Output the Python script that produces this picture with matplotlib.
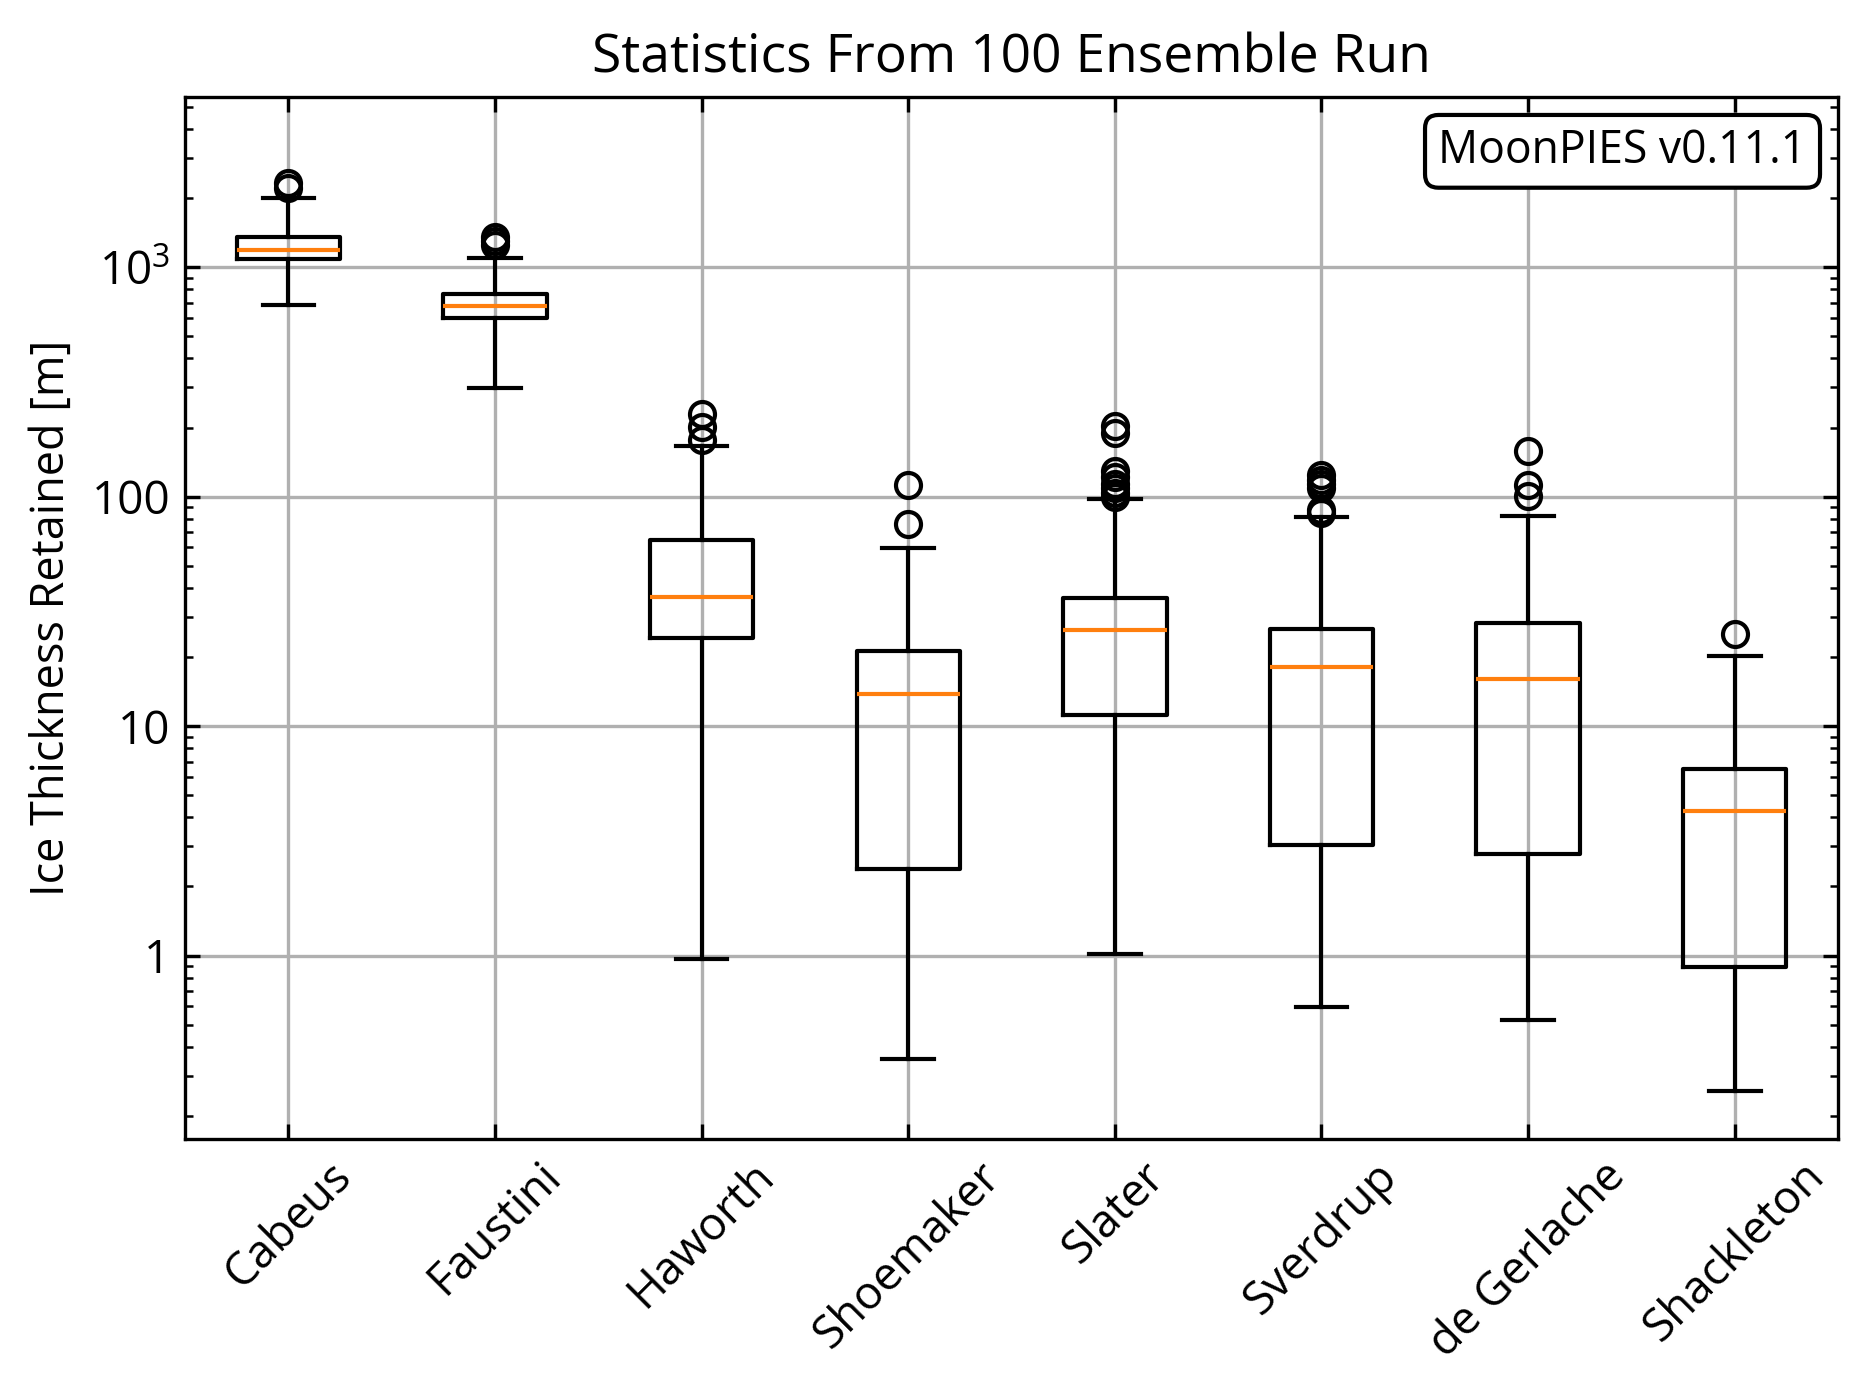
import matplotlib
matplotlib.use('Agg')
import matplotlib.pyplot as plt

plt.rcParams['font.family'] = ['Open Sans', 'DejaVu Sans']
plt.rcParams['mathtext.default'] = 'regular'

craters = ['Cabeus', 'Faustini', 'Haworth', 'Shoemaker', 'Slater',
           'Sverdrup', 'de Gerlache', 'Shackleton']

# box statistics (m of ice retained)
whis_lo = [686, 298, 0.966, 0.355, 1.018, 0.598, 0.525, 0.258]
q1 = [1082, 600, 24.3, 2.39, 11.2, 3.04, 2.77, 0.895]
med = [1187, 680, 36.5, 13.8, 26.3, 18.1, 16.1, 4.27]
q3 = [1352, 763, 64.6, 21.3, 36.1, 26.5, 28.0, 6.53]
whis_hi = [2000, 1099, 166, 59.8, 97.2, 81.6, 82.7, 20.1]
fliers = [
    [2323, 2210],
    [1347, 1297, 1249],
    [230, 201, 176],
    [112, 75.7],
    [203.5, 188.5, 129.5, 122, 114, 108.6, 103.3, 99.8],
    [124, 118, 113, 109, 87.3, 85],
    [157.7, 112.4, 100.2],
    [25.1],
]

ytick_vals = [1, 10, 100, 1000]
ytick_labels = ['1', '10', '100', r'$10^3$']

stats = []
for i, name in enumerate(craters):
    stats.append({
        'label': name,
        'whislo': whis_lo[i],
        'q1': q1[i],
        'med': med[i],
        'q3': q3[i],
        'whishi': whis_hi[i],
        'fliers': fliers[i],
    })

fig = plt.figure(figsize=(1867 / 300, 1391 / 300), dpi=300)
ax = fig.add_axes([0.0991, 0.1815, 0.8854, 0.7487])

ax.bxp(stats, showfliers=True, widths=0.5,
       medianprops=dict(color='#ff7f0e', linewidth=1),
       flierprops=dict(marker='o', markerfacecolor='none',
                       markeredgecolor='black', markersize=6))

ax.set_yscale('log')
ax.set_ylim(0.1595, 5505)
ax.set_xlim(0.5, 8.5)
ax.set_yticks(ytick_vals)
ax.set_yticklabels(ytick_labels)
ax.grid(True, which='major', color='#b0b0b0', linewidth=0.8)
ax.set_axisbelow(True)

ax.tick_params(which='both', direction='in', top=True, right=True,
               labelsize=11)
ax.tick_params(axis='x', labelrotation=45)

ax.set_ylabel('Ice Thickness Retained [m]', fontsize=10.8)
ax.set_title('Statistics From 100 Ensemble Run', fontsize=12.8)

ax.text(0.981, 0.970, 'MoonPIES v0.11.1', transform=ax.transAxes,
        ha='right', va='top', fontsize=10.7,
        bbox=dict(boxstyle='round,pad=0.3', facecolor='white',
                  edgecolor='black', linewidth=1))

plt.savefig('out.png', dpi=300)
